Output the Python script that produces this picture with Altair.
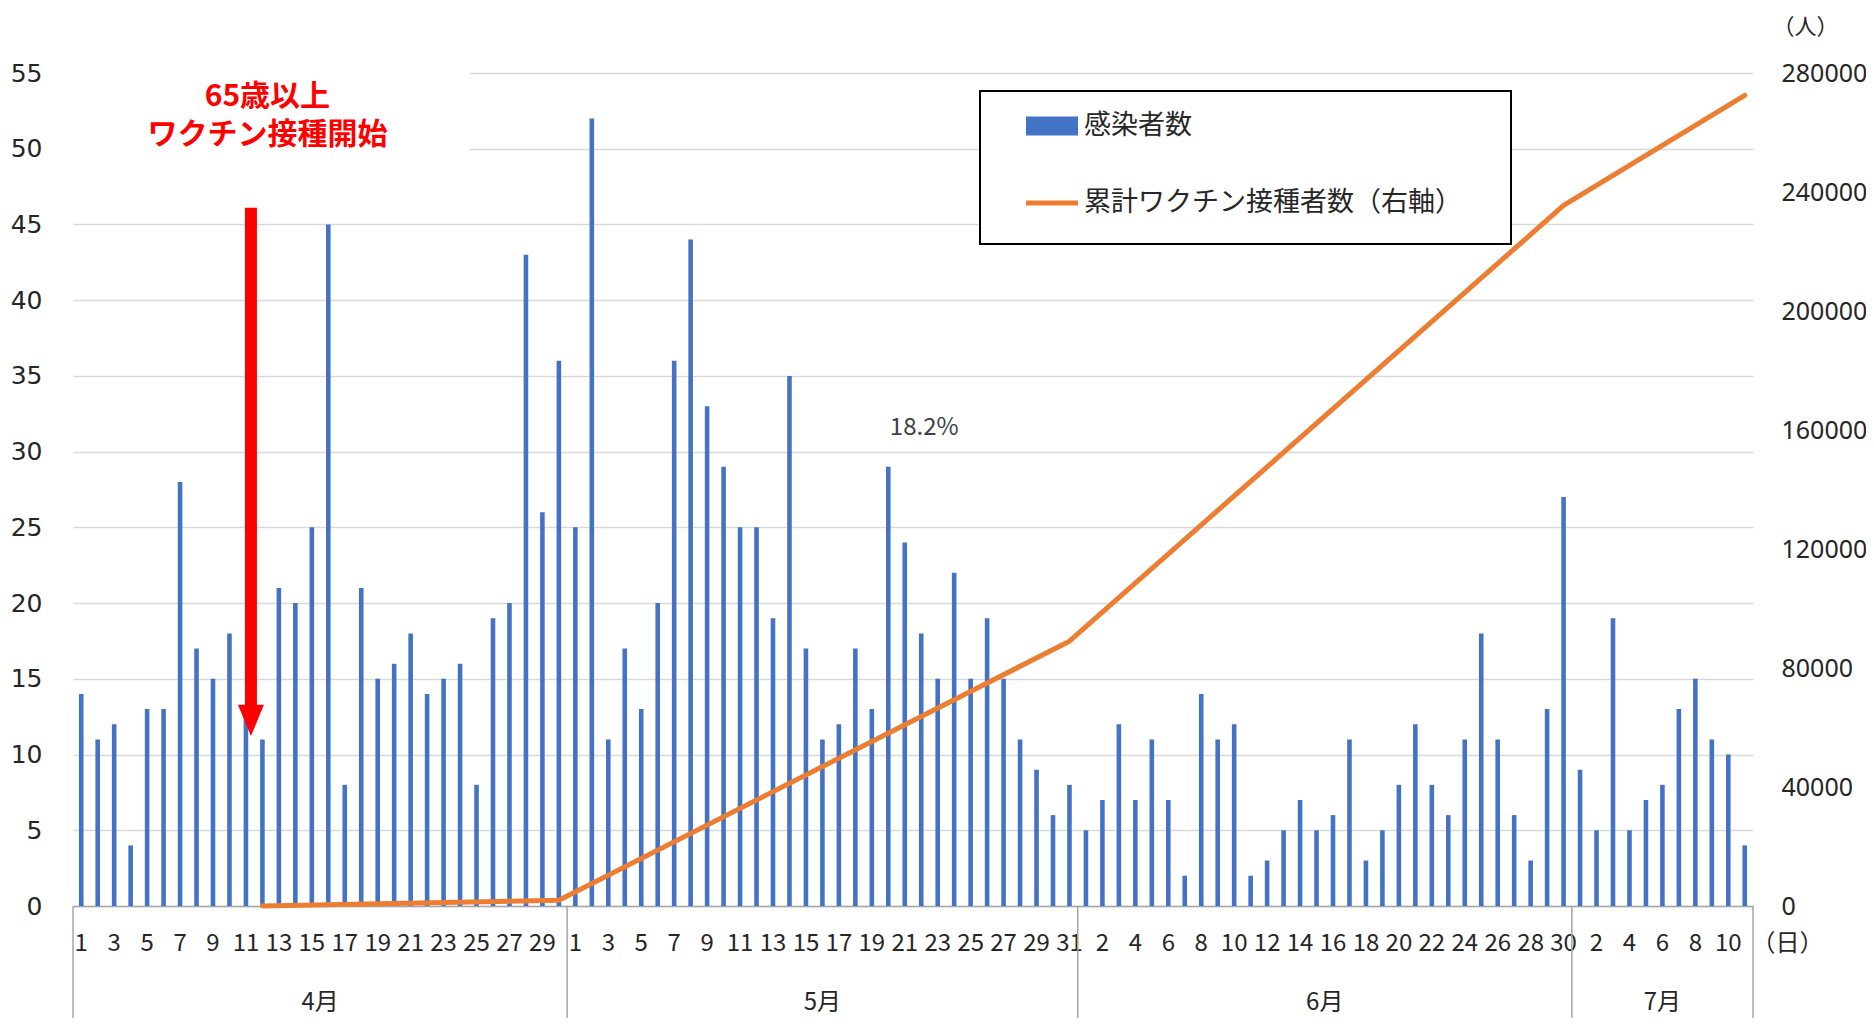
import altair as alt
import pandas as pd

# ---------------- data ----------------
month_numbers = [4, 5, 6, 7]
month_labels = ["4月", "5月", "6月", "7月"]
days_in_month = [30, 31, 30, 11]

cases_april = [14, 11, 12, 4, 13, 13, 28, 17, 15, 18, 13, 11, 21, 20, 25, 45, 8, 21, 15, 16,
               18, 14, 15, 16, 8, 19, 20, 43, 26, 36]
cases_may = [25, 52, 11, 17, 13, 20, 36, 44, 33, 29, 25, 25, 19, 35, 17, 11, 12, 17, 13, 29,
             24, 18, 15, 22, 15, 19, 15, 11, 9, 6, 8]
cases_june = [5, 7, 12, 7, 11, 7, 2, 14, 11, 12, 2, 3, 5, 7, 5, 6, 11, 3, 5, 8,
              12, 8, 6, 11, 18, 11, 6, 3, 13, 27]
cases_july = [9, 5, 19, 5, 7, 8, 13, 15, 11, 10, 4]

vaccine_dates = ["4/12", "4/30", "5/31", "6/30", "7/11"]
vaccine_totals = [0, 1900, 89000, 235500, 272500]

left_ticks = [0, 5, 10, 15, 20, 25, 30, 35, 40, 45, 50, 55]
right_ticks = [0, 40000, 80000, 120000, 160000, 200000, 240000, 280000]

series_names = ["感染者数", "累計ワクチン接種者数（右軸）"]
series_colors = ["#4472C4", "#ED7D31"]

note_lines = ["65歳以上", "ワクチン接種開始"]
note_level = [53.4]
note_date = ["4/12"]

arrow_date = "4/11"
arrow_top = [46.1]
arrow_bottom = [13.0]
arrow_head = [12.25]

pct_text = ["18.2%"]
pct_date = ["5/22"]
pct_level = [31.55]

day_unit = "（日）"
person_unit = "（人）"

# ---------------- derived tables ----------------
dates = [f"{m}/{d}" for m, n in zip(month_numbers, days_in_month) for d in range(1, n + 1)]
cases = cases_april + cases_may + cases_june + cases_july
label_dates = dates[::2]

bars_df = pd.DataFrame({"date": dates, "cases": cases, "series": series_names[0]})
line_df = pd.DataFrame({"date": vaccine_dates, "total": vaccine_totals, "series": series_names[1]})

starts = []
s = 0
for n in days_in_month:
    starts.append(s)
    s += n
sep_df = pd.DataFrame({"date": [dates[i] for i in starts]})
sep_end_df = pd.DataFrame({"date": [dates[-1]]})

mid_even, mid_odd = [], []
for lab, st, n in zip(month_labels, starts, days_in_month):
    row = {"date": dates[st + n // 2], "label": lab}
    (mid_even if n % 2 == 0 else mid_odd).append(row)
mid_even_df = pd.DataFrame(mid_even)
mid_odd_df = pd.DataFrame(mid_odd)

note_df = pd.DataFrame({"date": note_date, "text": ["\n".join(note_lines)], "level": note_level})
arrow_df = pd.DataFrame({"date": [arrow_date], "top": arrow_top, "bottom": arrow_bottom, "head": arrow_head})
pct_df = pd.DataFrame({"date": pct_date, "level": pct_level, "text": pct_text})
one_df = pd.DataFrame({"k": [0]})

# ---------------- styling ----------------
W, H = 1680, 833
JP = "Noto Sans CJK JP"
TXT = "#262626"
AXIS_GRAY = "#A6A6A6"

x_scale = alt.Scale(domain=dates, paddingInner=0, paddingOuter=0)
y_left = alt.Scale(domain=[0, 55], nice=False, zero=True)
y_right = alt.Scale(domain=[0, 280000], nice=False, zero=True)

x_axis = alt.Axis(
    values=label_dates, labelExpr="split(datum.value, '/')[1]", labelAngle=0,
    labelFont=JP, labelFontSize=24, labelColor=TXT, labelPadding=37, labelBaseline="middle",
    labelOverlap=False, ticks=False, tickSize=0, domain=True, domainColor=AXIS_GRAY,
    domainWidth=1.5, grid=False, title=day_unit, titleX=W + 34, titleY=37, titleAngle=0,
    titleAlign="center", titleBaseline="middle", titleFont=JP, titleFontSize=24,
    titleFontWeight="normal", titleColor=TXT,
)

legend_bar = alt.Legend(
    orient="none", legendX=953, legendY=27, direction="vertical", title=None,
    labelFont=JP, labelFontSize=27, labelColor=TXT, labelLimit=800,
    symbolType="M-1,-0.365H1V0.365H-1Z", symbolSize=2704, symbolStrokeWidth=0,
    symbolOpacity=1, padding=0, symbolOffset=0, labelOffset=6,
)
legend_line = alt.Legend(
    orient="none", legendX=950.5, legendY=101.5, direction="vertical", title=None,
    labelFont=JP, labelFontSize=27, labelColor=TXT, labelLimit=800,
    symbolType="M-1,0H1", symbolSize=2704, symbolStrokeWidth=5,
    symbolOpacity=1, padding=0, symbolOffset=0, labelOffset=3.5,
)


def xd(band=0.5):
    return alt.X("date:N", scale=x_scale, axis=x_axis, bandPosition=band, sort=dates)


note_box = alt.Chart(one_df).mark_rect(fill="white").encode(
    x=alt.value(0), x2=alt.value(397), y=alt.value(-20), y2=alt.value(100))

legend_box = alt.Chart(one_df).mark_rect(fill="white", stroke="black", strokeWidth=2).encode(
    x=alt.value(907), x2=alt.value(1438), y=alt.value(18), y2=alt.value(171))

bars = alt.Chart(bars_df).mark_bar(width=4.6).encode(
    x=xd(),
    y=alt.Y("cases:Q", scale=y_left, axis=alt.Axis(
        values=left_ticks, title=None, grid=True, gridColor="#D9D9D9", gridWidth=1.5,
        domain=False, ticks=False, tickSize=0, labelPadding=31, labelFont="DejaVu Sans",
        labelFontSize=25, labelColor=TXT)),
    fill=alt.Fill("series:N", scale=alt.Scale(domain=series_names[:1], range=series_colors[:1]),
                  legend=legend_bar),
)

line = alt.Chart(line_df).mark_line(strokeWidth=5, strokeCap="round", strokeJoin="round").encode(
    x=xd(),
    y=alt.Y("total:Q", scale=y_right, axis=alt.Axis(
        orient="right", values=right_ticks, format="d", grid=False, domain=False, ticks=False,
        tickSize=0, labelPadding=28, labelFont="Noto Sans", labelFontSize=25, labelColor=TXT,
        title=person_unit, titleAngle=0, titleX=52, titleY=-47, titleAlign="center",
        titleBaseline="middle", titleFont=JP, titleFontSize=22, titleFontWeight="normal",
        titleColor=TXT)),
    stroke=alt.Stroke("series:N", scale=alt.Scale(domain=series_names[1:], range=series_colors[1:]),
                      legend=legend_line),
)

shaft = alt.Chart(arrow_df).mark_rule(color="#FF0000", strokeWidth=12, xOffset=5).encode(
    x=xd(), y=alt.Y("top:Q", scale=y_left, axis=None), y2="bottom")

head = alt.Chart(arrow_df).mark_point(
    shape="M-1,-1.2L1,-1.2L0,1.2Z", size=676, filled=True, color="#FF0000", opacity=1,
    strokeWidth=0, xOffset=5).encode(
    x=xd(), y=alt.Y("head:Q", scale=y_left, axis=None))

note_text = alt.Chart(note_df).mark_text(
    font=JP, fontSize=30, fontWeight="bold", color="#FF0000", align="center",
    baseline="middle", xOffset=5, lineBreak="\n", lineHeight=37.5).encode(
    x=xd(), y=alt.Y("level:Q", scale=y_left, axis=None), text="text:N")

pct = alt.Chart(pct_df).mark_text(
    font=JP, fontSize=24, color="#404040", align="center", baseline="middle", xOffset=3).encode(
    x=xd(), y=alt.Y("level:Q", scale=y_left, axis=None), text="text:N")

seps = alt.Chart(sep_df).mark_rule(color=AXIS_GRAY, strokeWidth=1.5).encode(
    x=xd(0), y=alt.value(H), y2=alt.value(H + 112))
sep_end = alt.Chart(sep_end_df).mark_rule(color=AXIS_GRAY, strokeWidth=1.5).encode(
    x=xd(1), y=alt.value(H), y2=alt.value(H + 112))

month_a = alt.Chart(mid_even_df).mark_text(
    font=JP, fontSize=24, color=TXT, align="center", baseline="middle").encode(
    x=xd(0), y=alt.value(H + 97), text="label:N")
month_b = alt.Chart(mid_odd_df).mark_text(
    font=JP, fontSize=24, color=TXT, align="center", baseline="middle").encode(
    x=xd(0.5), y=alt.value(H + 97), text="label:N")

chart = alt.layer(
    note_box, legend_box, bars, line, shaft, head, note_text, pct,
    seps, sep_end, month_a, month_b,
).resolve_scale(y="independent").properties(
    width=W, height=H,
    autosize=alt.AutoSizeParams(type="none"),
    padding={"left": 65, "top": 65, "right": 113, "bottom": 112},
).configure_view(strokeWidth=0)

chart.save("out.html", embed_options={"renderer": "svg", "actions": False})
